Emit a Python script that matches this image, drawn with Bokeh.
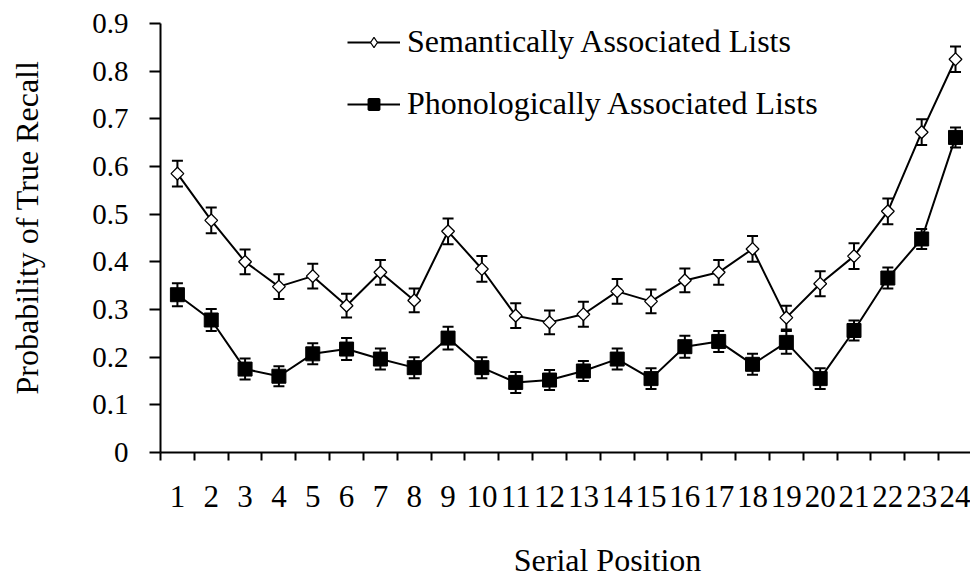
import math

from bokeh.embed import file_html
from bokeh.models import (ColumnDataSource, FixedTicker, Label, Legend, LegendItem,
                          Range1d, TeeHead, Whisker)
from bokeh.plotting import figure
from bokeh.resources import INLINE

# Serial positions and their tick labels
positions = list(range(1, 25))
x_labels = [str(n) for n in positions]

# Mean probability of true recall per serial position
semantic = [0.585, 0.487, 0.400, 0.348, 0.370, 0.308, 0.378, 0.319, 0.464, 0.385,
            0.287, 0.273, 0.290, 0.338, 0.317, 0.361, 0.378, 0.427, 0.283, 0.354,
            0.412, 0.506, 0.672, 0.825]
phonological = [0.331, 0.278, 0.175, 0.160, 0.207, 0.217, 0.196, 0.178, 0.240, 0.178,
                0.147, 0.152, 0.171, 0.196, 0.155, 0.222, 0.233, 0.185, 0.231, 0.155,
                0.256, 0.366, 0.448, 0.661]

# Standard errors
semantic_err = [0.027, 0.027, 0.026, 0.026, 0.026, 0.025, 0.026, 0.025, 0.027, 0.027,
                0.026, 0.025, 0.026, 0.026, 0.025, 0.025, 0.026, 0.027, 0.025, 0.026,
                0.027, 0.027, 0.027, 0.027]
phonological_err = [0.024, 0.023, 0.022, 0.021, 0.022, 0.023, 0.022, 0.022, 0.024, 0.022,
                    0.022, 0.021, 0.021, 0.022, 0.022, 0.023, 0.022, 0.022, 0.024, 0.022,
                    0.021, 0.022, 0.021, 0.021]

y_ticks = [i / 10 for i in range(10)]
y_labels = ["0"] + [f"{t:.1f}" for t in y_ticks[1:]]

series_names = ["Semantically Associated Lists", "Phonologically Associated Lists"]
x_title = "Serial Position"
y_title = "Probability of True Recall"

FONT = "Liberation Serif"

sem_src = ColumnDataSource(dict(
    x=positions, y=semantic,
    lo=[v - e for v, e in zip(semantic, semantic_err)],
    hi=[v + e for v, e in zip(semantic, semantic_err)],
))
pho_src = ColumnDataSource(dict(
    x=positions, y=phonological,
    lo=[v - e for v, e in zip(phonological, phonological_err)],
    hi=[v + e for v, e in zip(phonological, phonological_err)],
))

p = figure(width=970, height=577,
           x_range=Range1d(0.5, 0.5 + 810 / 33.83), y_range=Range1d(0, 0.9),
           output_backend="svg", toolbar_location=None,
           min_border_left=160, min_border_right=0,
           min_border_top=23, min_border_bottom=125)
p.grid.visible = False
p.outline_line_color = None
p.background_fill_color = "white"
p.border_fill_color = "white"

# x axis: labels at positions, tick marks between positions
xa = p.xaxis[0]
xa.ticker = FixedTicker(ticks=positions, minor_ticks=[k + 0.5 for k in range(25)])
xa.major_label_overrides = {n: lab for n, lab in zip(positions, x_labels)}
xa.major_tick_out = 0
xa.major_tick_in = 0
xa.minor_tick_out = 8
xa.minor_tick_in = 0
xa.minor_tick_line_width = 2
xa.minor_tick_line_color = "black"
xa.axis_line_width = 2
xa.axis_line_color = "black"
xa.major_label_text_font = FONT
xa.major_label_text_font_size = "31px"
xa.major_label_text_color = "black"
xa.major_label_standoff = 25

ya = p.yaxis[0]
ya.ticker = FixedTicker(ticks=y_ticks, minor_ticks=[])
ya.major_label_overrides = {t: lab for t, lab in zip(y_ticks, y_labels)}
ya.major_tick_out = 11
ya.major_tick_in = 0
ya.major_tick_line_width = 2
ya.major_tick_line_color = "black"
ya.minor_tick_out = 0
ya.minor_tick_in = 0
ya.axis_line_width = 2
ya.axis_line_color = "black"
ya.major_label_text_font = FONT
ya.major_label_text_font_size = "29px"
ya.major_label_text_color = "black"
ya.major_label_standoff = 21

# axis titles, placed in the side panels at canvas positions
p.add_layout(Label(x=607, y=559, x_units="canvas", y_units="canvas", text=x_title,
                   text_align="center", text_baseline="middle",
                   text_font=FONT, text_font_size="32px", text_color="black"), "below")
p.add_layout(Label(x=26, y=227, x_units="canvas", y_units="canvas", text=y_title,
                   angle=math.pi / 2, text_align="center", text_baseline="middle",
                   text_font=FONT, text_font_size="32px", text_color="black"), "left")

# error bars
for src in (sem_src, pho_src):
    w = Whisker(source=src, base="x", lower="lo", upper="hi",
                line_color="black", line_width=2,
                upper_head=TeeHead(size=11, line_width=2, line_color="black"),
                lower_head=TeeHead(size=11, line_width=2, line_color="black"))
    p.add_layout(w)

p.line("x", "y", source=sem_src, line_color="black", line_width=2)
p.line("x", "y", source=pho_src, line_color="black", line_width=2)
p.scatter("x", "y", source=sem_src, marker="square", angle=math.pi / 4,
          size=9, fill_color="white", line_color="black", line_width=1.3)
p.scatter("x", "y", source=pho_src, marker="square", size=14,
          fill_color="black", line_color="black", line_width=1)

# legend keys: renderers holding a single NaN point, so nothing shows in the plot
key_src = ColumnDataSource(dict(x=[float("nan")], y=[float("nan")]))
k_sem_line = p.line("x", "y", source=key_src, line_color="black", line_width=2)
k_sem_pt = p.scatter("x", "y", source=key_src, marker="diamond",
                     fill_color="white", line_color="black", line_width=1.2)
k_pho_line = p.line("x", "y", source=key_src, line_color="black", line_width=2)
k_pho_pt = p.scatter("x", "y", source=key_src, marker="square",
                     fill_color="black", line_color="black", line_width=2.5)

legend = Legend(items=[LegendItem(label=series_names[0], renderers=[k_sem_line, k_sem_pt]),
                       LegendItem(label=series_names[1], renderers=[k_pho_line, k_pho_pt])],
                location=(187, 330), glyph_width=53, glyph_height=26, label_height=30,
                label_standoff=7, spacing=25, padding=0, margin=0,
                border_line_color=None, background_fill_alpha=0,
                label_text_font=FONT, label_text_font_size="32px",
                label_text_color="black")
p.add_layout(legend)

open("out.html", "w").write(file_html(p, INLINE))
